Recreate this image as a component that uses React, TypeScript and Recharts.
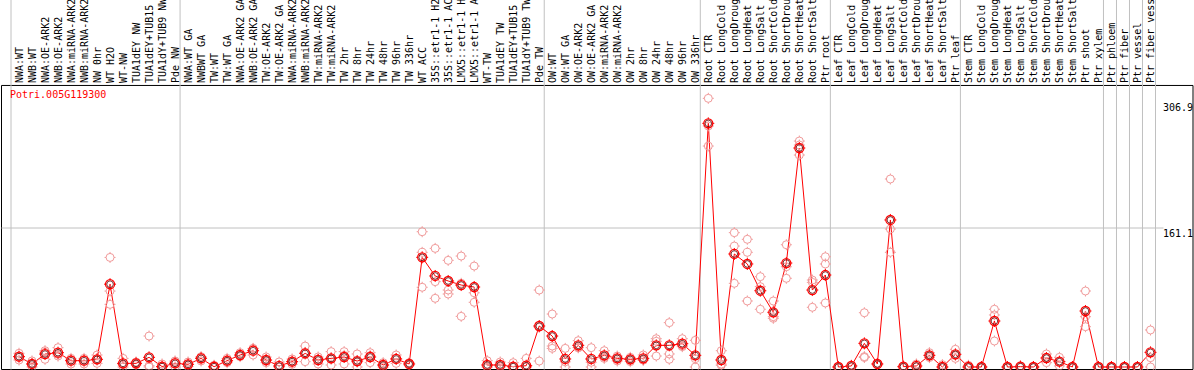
import {
  ComposedChart,
  Line,
  Scatter,
  XAxis,
  YAxis,
  ReferenceLine,
  ReferenceArea,
} from "recharts";

const title = "Potri.005G119300";

const categories = [
  "NWA:WT", "NWB:WT", "NWA:OE-ARK2", "NWB:OE-ARK2", "NWA:miRNA-ARK2", "NWB:miRNA-ARK2",
  "NW 0hr", "WT H2O", "WT-NW", "TUA1dEY NW", "TUA1dEY+TUB15", "TUA1dY+TUB9 NW", "Pde NW",
  "NWA:WT GA", "NWBWT GA", "TW:WT", "TW:WT GA", "NWA:OE-ARK2 GA", "NWB:OE-ARK2 GA",
  "TW:OE-ARK2", "TW:OE-ARK2 GA", "NWA:miRNA-ARK2", "NWB:miRNA-ARK2", "TW:miRNA-ARK2",
  "TW:miRNA-ARK2", "TW 2hr", "TW 8hr", "TW 24hr", "TW 48hr", "TW 96hr", "TW 336hr",
  "WT ACC", "35S::etr1-1 H2", "35S::etr1-1 AC", "LMX5::etr1-1 H", "LMX5::etr1-1 A",
  "WT-TW", "TUA1dEY TW", "TUA1dEY+TUB15", "TUA1dY+TUB9 TW", "Pde TW",
  "OW:WT", "OW:WT GA", "OW:OE-ARK2", "OW:OE-ARK2 GA", "OW:miRNA-ARK2", "OW:miRNA-ARK2",
  "OW 2hr", "OW 8hr", "OW 24hr", "OW 48hr", "OW 96hr", "OW 336hr",
  "Root CTR", "Root LongCold", "Root LongDroug", "Root LongHeat", "Root LongSalt",
  "Root ShortCold", "Root ShortDrou", "Root ShortHeat", "Root ShortSalt", "Ptr root",
  "Leaf CTR", "Leaf LongCold", "Leaf LongDroug", "Leaf LongHeat", "Leaf LongSalt",
  "Leaf ShortCold", "Leaf ShortDrou", "Leaf ShortHeat", "Leaf ShortSalt", "Ptr leaf",
  "Stem CTR", "Stem LongCold", "Stem LongDroug", "Stem LongHeat", "Stem LongSalt",
  "Stem ShortCold", "Stem ShortDrou", "Stem ShortHeat", "Stem ShortSalt", "Ptr shoot",
  "Ptr xylem", "Ptr phloem", "Ptr fiber", "Ptr vessel", "Ptr fiber vess",
];

const means = [
  12, 3.5, 15, 16.6, 7.3, 7.3, 8.9, 96, 4.2, 4.2, 11.2, 0.5, 4.2,
  3.1, 10, 0.3, 7.3, 13.9, 18.9, 8.1, 1.2, 6.2, 15.8, 8.1, 10, 11.6, 6.9, 11.6, 2.3,
  9.3, 3.5, 127.1, 105.5, 99.7, 95, 92.7, 2.3, 2.3, 0.4, 1.5, 47.5,
  35.9, 9.3, 25.1, 9.3, 13.5, 10, 8.9, 10, 25.1, 25.1, 27, 13.5,
  282.4, 8.1, 131, 119.4, 88.4, 63.4, 120.5, 253.8, 89.2, 106.6,
  0, 1.2, 27.4, 3.5, 170.4, 0.4, 1.2, 13.5, 0, 14.7,
  0, 0, 53.3, 0, 0.4, 0, 10.4, 6.2, 0, 64.9, 0,
  0, 0, 0, 17,
];

const rep1 = [
  15.9, 7, 18.9, 22.4, 10, 10, 13.9, 127, 10, 5.8, 35.9, 3.5, 7,
  5.8, 12, 2, 10, 16.6, 21.6, 11.6, 5.8, 9.3, 24.3, 11.6, 17.8, 17.8, 15.1, 16.6, 5,
  13.9, 5, 156.8, 137.5, 123.6, 128.6, 117, 7.3, 5.8, 5, 10, 89.2,
  61.4, 21.6, 30.5, 22.4, 18.9, 12.7, 11.2, 13.9, 32.8, 51.4, 32.8, 30.9,
  311.4, 18.9, 155.7, 148, 104.7, 76.5, 141.7, 261.9, 100.8, 127.8,
  0, 2, 62.9, 4, 217.9, 1.2, 3.5, 16.6, 2.7, 20.5,
  2, 0, 66.9, 0, 1.2, 0, 15.1, 11.2, 0, 88.1, 0,
  0, 0, 0, 42.9,
];

const rep2 = [
  12, 3.5, 17, 14.7, 8.4, 8.4, 8.6, 88, 2.6, 4.2, 1.5, 0, 5.6,
  3, 11, 0, 7, 13.1, 21.2, 7.7, 0, 6.2, 16.9, 9.2, 10, 13.5, 5.6, 13.2, 2,
  9.8, 3.5, 132.9, 98.9, 89.2, 97, 86, 0, 1, 0, 0, 46,
  24.3, 6, 22.4, 5.5, 11.6, 10, 9.3, 8, 29.8, 15.1, 24.6, 9.6,
  279.3, 3.4, 140.2, 132.9, 93.1, 58.3, 116.2, 257.3, 98.1, 119.4,
  0, 1, 12, 3.5, 159.9, 0, 0.5, 13.5, 0, 13.6,
  0, 0, 60.3, 0, 0, 0, 11, 6.2, 0, 58.3, 0,
  0, 0, 0, 10.8,
];

const rep3 = [
  8.1, 0, 8.9, 12.7, 3.5, 3.5, 4.2, 72.6, 0, 2.6, 0, 0, 0,
  0.5, 7, 0, 5, 12, 13.9, 5, 0, 3.1, 6.2, 3.5, 2.3, 3.5, 0, 5, 0,
  4.2, 2, 92.4, 79.6, 84.6, 58.7, 75, 0, 0, 0, 0, 6.9,
  21.6, 0, 22.4, 0, 10, 7, 6.2, 8, 12.7, 8.9, 23.6, 0,
  256.1, 2, 97, 76.5, 66.9, 56.4, 102.8, 245.7, 69.2, 74.2,
  0, 0, 11, 2.5, 132.9, 0, 0, 10.9, 0, 10,
  0, 0, 30.1, 0, 0, 0, 5, 1.2, 0, 46.7, 0,
  0, 0, 0, 0,
];

// index where each sample group starts (last one closes the plot)
const groupBreaks = [0, 13, 41, 53, 63, 73, 84, 85, 86, 87, 88];
const yTicks = [0, 161.1, 306.9];

const data = categories.map((name, i) => ({
  i,
  name,
  mean: means[i],
  r1: rep1[i],
  r2: rep2[i],
  r3: rep3[i],
}));

const X_MIN = -1.346;
const X_MAX = 90.269;
const Y_MIN = -2.9;
const Y_MAX = 425.36;
const FRAME_TOP = 326.3;
const BREAK_SHIFT = 0.6154;
const MONO = '"DejaVu Sans Mono", monospace';
const RED = "#ff0000";
const PINK = "#f09a9a";

const ticksPath = (cx: number, cy: number, r: number, t: number) =>
  `M${cx} ${cy - t}V${cy - r}M${cx} ${cy + r}V${cy + t}M${cx - t} ${cy}H${cx - r}M${cx + r} ${cy}H${cx + t}`;

const RepDot = ({ cx, cy }: any) => {
  if (cx == null || cy == null) return null;
  return (
    <g stroke={PINK} fill="none" strokeWidth={1}>
      <circle cx={cx} cy={cy} r={4} />
      <path d={ticksPath(cx, cy, 4, 5.5)} />
    </g>
  );
};

const MeanDot = (p: any) => {
  const { cx, cy, index } = p;
  if (cx == null || cy == null) return <g key={`m${index}`} />;
  return (
    <g key={`m${index}`} fill="none">
      <circle cx={cx} cy={cy} r={4.5} stroke={RED} strokeWidth={1.3} />
      <circle cx={cx} cy={cy} r={3.3} stroke="#5a0000" strokeWidth={0.8} />
      <path d={ticksPath(cx, cy, 4.5, 6)} stroke={RED} strokeWidth={1} />
    </g>
  );
};

const CategoryTick = ({ x, payload }: any) => (
  <text
    transform={`translate(${x + 3.5},83) rotate(-90)`}
    fontFamily={MONO}
    fontSize={10}
    fill="#000"
  >
    {categories[payload.value]}
  </text>
);

const ValueTick = ({ y, payload }: any) => (
  <text
    x={1163}
    y={payload.value === 0 ? y - 1 : y + 8.5}
    fontFamily={MONO}
    fontSize={10}
    fill="#000"
  >
    {payload.value}
  </text>
);

export default function App() {
  return (
    <div style={{ position: "absolute", left: 0, top: 0, width: 1194, height: 370, background: "#fff" }}>
      <ComposedChart
        width={1194}
        height={370}
        data={data}
        margin={{ top: 0, right: 1, bottom: 0, left: 1.5 }}
      >
        <XAxis
          type="number"
          dataKey="i"
          domain={[X_MIN, X_MAX]}
          ticks={data.map((d) => d.i)}
          interval={0}
          allowDataOverflow
          height={0.5}
          axisLine={false}
          tickLine={false}
          tick={<CategoryTick />}
        />
        <YAxis
          type="number"
          orientation="right"
          mirror
          width={0.5}
          domain={[Y_MIN, Y_MAX]}
          ticks={yTicks}
          allowDataOverflow
          axisLine={false}
          tickLine={false}
          tick={<ValueTick />}
        />
        {groupBreaks.map((b) => (
          <ReferenceLine
            key={b}
            x={b - BREAK_SHIFT}
            stroke="#c0c0c0"
            strokeWidth={1}
          />
        ))}
        <ReferenceLine
          segment={[
            { x: X_MIN, y: 161.1 },
            { x: 88, y: 161.1 },
          ]}
          stroke="#c0c0c0"
          strokeWidth={1}
        />
        <ReferenceArea
          x1={X_MIN}
          x2={X_MAX}
          y1={Y_MIN}
          y2={FRAME_TOP}
          fill="none"
          stroke="#000"
          strokeWidth={1}
        />
        <Scatter dataKey="r1" shape={<RepDot />} isAnimationActive={false} />
        <Scatter dataKey="r2" shape={<RepDot />} isAnimationActive={false} />
        <Scatter dataKey="r3" shape={<RepDot />} isAnimationActive={false} />
        <Line
          dataKey="mean"
          stroke={RED}
          strokeWidth={1}
          dot={MeanDot}
          activeDot={false}
          isAnimationActive={false}
        />
      </ComposedChart>
      <div
        style={{
          position: "absolute",
          left: 10,
          top: 89,
          fontFamily: MONO,
          fontSize: 10,
          lineHeight: "12px",
          color: RED,
        }}
      >
        {title}
      </div>
    </div>
  );
}
